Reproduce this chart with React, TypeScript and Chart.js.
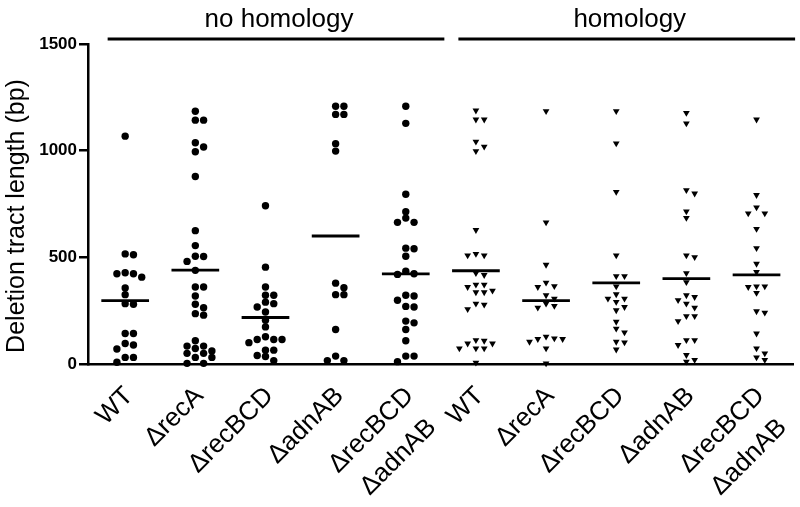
import React, { useEffect, useRef } from 'react';
import { Chart, registerables } from 'chart.js';

Chart.register(...registerables);

const FONT = '"Liberation Sans", Arial, Helvetica, sans-serif';

// ---- text ----
const sectionTitles = ['no homology', 'homology'];
const sectionGroups = [[0, 4], [5, 9]];
const strainLabels: string[][] = [
  ['WT'], ['ΔrecA'], ['ΔrecBCD'], ['ΔadnAB'], ['ΔrecBCD', 'ΔadnAB'],
  ['WT'], ['ΔrecA'], ['ΔrecBCD'], ['ΔadnAB'], ['ΔrecBCD', 'ΔadnAB'],
];
const yTitle = 'Deletion tract length (bp)';
const yTicks = [0, 500, 1000, 1500];

// ---- data (bp) ----
const noHomWT = [1068, 516, 512, 428, 423, 423, 407, 356, 325, 283, 280, 143, 143, 96, 89, 70, 31, 31, 8];
const noHomRecA = [1185, 1143, 1143, 1037, 1017, 995, 879, 625, 555, 505, 504, 481, 439, 361, 361, 319, 280, 264, 236, 229, 109, 84, 84, 73, 61, 50, 50, 31, 31, 3, 3];
const noHomRecBCD = [742, 454, 361, 322, 322, 290, 283, 267, 244, 205, 174, 128, 115, 115, 115, 100, 65, 65, 40, 35, 16];
const noHomAdnAB = [1208, 1208, 1170, 1170, 1033, 998, 379, 358, 325, 325, 162, 37, 16, 16];
const noHomDouble = [1208, 1128, 796, 714, 684, 664, 664, 543, 540, 505, 435, 423, 420, 322, 319, 299, 270, 267, 201, 193, 162, 109, 37, 37, 11];
const homWT = [1188, 1146, 1146, 1042, 1019, 998, 628, 516, 509, 509, 426, 417, 372, 372, 361, 344, 336, 336, 283, 278, 257, 112, 109, 96, 96, 73, 73, 73, 6];
const homRecA = [1185, 664, 465, 381, 365, 361, 322, 306, 283, 272, 264, 128, 120, 117, 117, 104, 73, 3];
const homRecBCD = [1185, 1034, 807, 509, 412, 412, 364, 327, 306, 306, 291, 267, 252, 198, 166, 148, 104, 101, 68];
const homAdnAB = [1177, 1128, 815, 799, 715, 685, 509, 501, 426, 384, 322, 314, 299, 283, 264, 224, 224, 201, 112, 112, 89, 42, 19, 11];
const homDouble = [1146, 792, 734, 706, 706, 633, 543, 470, 431, 364, 364, 361, 333, 247, 241, 143, 73, 50, 31, 19];

const groupValues = [noHomWT, noHomRecA, noHomRecBCD, noHomAdnAB, noHomDouble, homWT, homRecA, homRecBCD, homAdnAB, homDouble];
const groupMeans = [297, 440, 218, 600, 422, 437, 297, 380, 400, 418];

// simple beeswarm layout: stack points that would overlap into side slots
function swarm(values: number[], center: number, step: number, minGap: number) {
  const sorted = [...values].sort((a, b) => b - a);
  const placed: { s: number; v: number }[] = [];
  const order = [0, 1, -1, 2, -2, 3, -3, 4, -4];
  return sorted.map((v) => {
    let slot = 0;
    for (const s of order) {
      if (!placed.some((p) => p.s === s && Math.abs(p.v - v) < minGap)) { slot = s; break; }
    }
    placed.push({ s: slot, v });
    return { x: center + slot * step, y: v };
  });
}

const labelPlugin = {
  id: 'labels',
  afterDraw(chart: any) {
    const ctx = chart.ctx as CanvasRenderingContext2D;
    const xs = chart.scales.x;
    ctx.save();
    ctx.fillStyle = '#000';
    ctx.strokeStyle = '#000';

    // section headers
    sectionTitles.forEach((t, k) => {
      const [a, b] = sectionGroups[k];
      const x1 = xs.getPixelForValue(a - 0.25);
      const x2 = xs.getPixelForValue(b + 0.55);
      ctx.lineWidth = 3;
      ctx.beginPath();
      ctx.moveTo(x1, 39);
      ctx.lineTo(x2, 39);
      ctx.stroke();
      ctx.font = `26px ${FONT}`;
      ctx.textAlign = 'center';
      ctx.textBaseline = 'alphabetic';
      ctx.fillText(t, (x1 + x2) / 2 + 3, 27);
    });

    // y title
    ctx.save();
    ctx.translate(17, 216);
    ctx.rotate(-Math.PI / 2);
    ctx.font = `25px ${FONT}`;
    ctx.textAlign = 'center';
    ctx.textBaseline = 'middle';
    ctx.fillText(yTitle, 0, 0);
    ctx.restore();

    // strain labels (rotated 45°)
    ctx.font = `26px ${FONT}`;
    strainLabels.forEach((lines, i) => {
      const ax = xs.getPixelForValue(i) + 4;
      const ay = 392;
      const widths = lines.map((s) => ctx.measureText(s).width);
      const wm = Math.max(...widths);
      ctx.save();
      ctx.translate(ax, ay);
      ctx.rotate(-Math.PI / 4);
      ctx.textAlign = 'center';
      ctx.textBaseline = 'middle';
      lines.forEach((ln, k) => {
        ctx.fillText(ln, -wm / 2, k * 38);
      });
      ctx.restore();
    });
    ctx.restore();
  },
};

export default function App() {
  const ref = useRef<HTMLCanvasElement>(null);
  useEffect(() => {
    if (!ref.current) return;
    const pointSets = groupValues.map((vals, i) => ({
      type: 'scatter' as const,
      data: swarm(vals, i, 0.118, 30),
      pointStyle: i < 5 ? 'circle' : 'triangle',
      rotation: i < 5 ? 0 : 180,
      pointRadius: i < 5 ? 3.7 : 3.9,
      pointBackgroundColor: '#000',
      pointBorderColor: '#000',
      pointBorderWidth: 0,
      clip: false as any,
    }));
    const meanSets = groupMeans.map((m, i) => ({
      type: 'line' as const,
      data: [{ x: i - 0.34, y: m }, { x: i + 0.34, y: m }],
      borderColor: '#000',
      borderWidth: 2.8,
      pointRadius: 0,
      fill: false,
    }));
    const chart = new Chart(ref.current, {
      type: 'scatter',
      data: { datasets: [...pointSets, ...meanSets] as any },
      options: {
        animation: false,
        responsive: true,
        maintainAspectRatio: false,
        layout: { padding: { top: 44, right: 7, bottom: 143, left: 0 } },
        plugins: { legend: { display: false }, tooltip: { enabled: false } },
        scales: {
          x: {
            type: 'linear',
            min: -0.53,
            max: 9.52,
            ticks: { display: false },
            grid: { display: false, drawTicks: false },
            border: { display: true, color: '#000', width: 2.5 },
            afterFit: (s: any) => { s.height = 0; },
          },
          y: {
            type: 'linear',
            min: 0,
            max: 1500,
            afterBuildTicks: (s: any) => { s.ticks = yTicks.map((v) => ({ value: v })); },
            afterFit: (s: any) => { s.width = 88; },
            ticks: {
              color: '#000',
              padding: 2,
              font: { family: FONT, size: 17, weight: 'bold' },
              callback: (v: any) => String(v),
            },
            grid: { display: true, drawOnChartArea: false, drawTicks: true, tickLength: 9, color: '#000', lineWidth: 2.5 },
            border: { display: true, color: '#000', width: 2.5 },
          },
        },
      },
      plugins: [labelPlugin],
    });
    return () => chart.destroy();
  }, []);
  return (
    <div style={{ position: 'fixed', left: 0, top: 0, width: 800, height: 507, background: '#fff' }}>
      <canvas ref={ref} />
    </div>
  );
}
